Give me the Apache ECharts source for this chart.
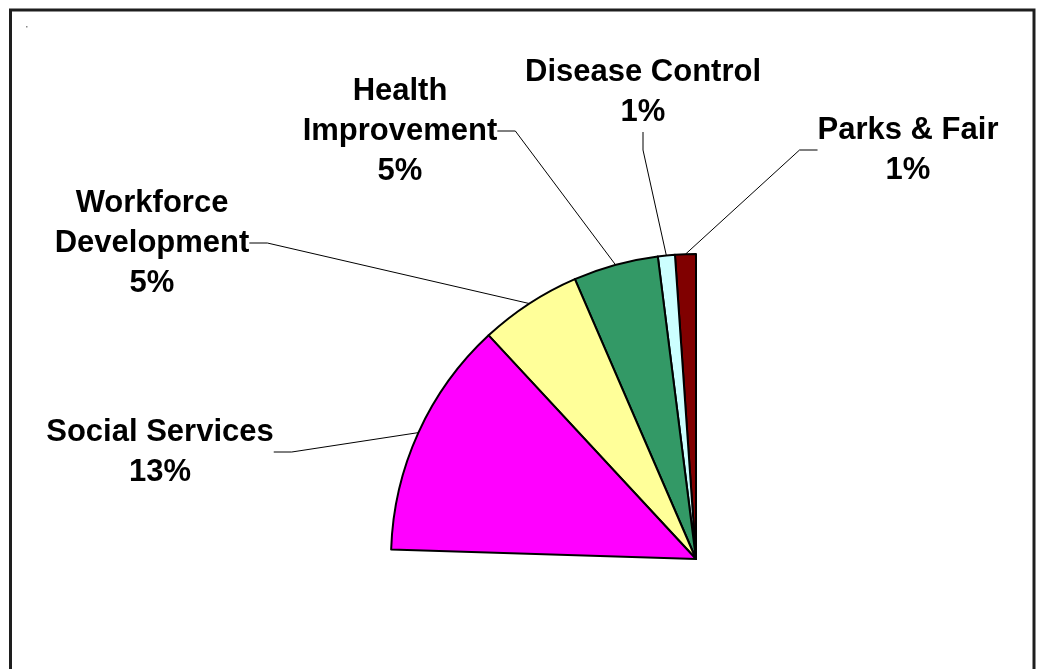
<!DOCTYPE html>
<html>
<head>
<meta charset="utf-8">
<script src="https://cdn.jsdelivr.net/npm/echarts@6/dist/echarts.min.js"></script>
<style>
html,body{margin:0;padding:0;background:#fff;}
#chart{width:1037px;height:669px;}
</style>
</head>
<body>
<div id="chart"></div>
<script>
// ---- data ----
const categories = ['Parks & Fair', 'Disease Control', 'Health Improvement', 'Workforce Development', 'Social Services'];
const labelNames = ['Parks & Fair', 'Disease Control', 'Health\nImprovement', 'Workforce\nDevelopment', 'Social Services'];
const values = [1.1, 0.9, 4.5, 5.4, 12.6];
const otherName = 'Other';
const otherValue = 75.5;
const colors = ['#800000', '#CCFFFF', '#339966', '#FFFF99', '#FF00FF'];

// ---- label layout (styling) ----
const labelPos = [[908, 150], [643, 92], [400, 131], [152, 243], [160, 452]];

const seriesData = categories.map((c, i) => ({
  name: c,
  value: values[i],
  itemStyle: { color: colors[i] }
}));
seriesData.push({
  name: otherName,
  value: otherValue,
  itemStyle: { color: 'rgba(0,0,0,0)', borderWidth: 0 },
  label: { show: false },
  labelLine: { show: false },
  emphasis: { disabled: true }
});

const chart = echarts.init(document.getElementById('chart'), null, { renderer: 'canvas' });
chart.setOption({
  animation: false,
  backgroundColor: '#ffffff',
  graphic: [
    { type: 'rect', shape: { x: 10.5, y: 10, width: 1023.5, height: 680 },
      style: { fill: 'none', stroke: '#1e1e1e', lineWidth: 3 }, silent: true },
    { type: 'rect', shape: { x: 26, y: 26, width: 1.5, height: 1.5 },
      style: { fill: '#888' }, silent: true }
  ],
  series: [{
    type: 'pie',
    center: [696, 559],
    radius: 305,
    startAngle: 90,
    clockwise: false,
    avoidLabelOverlap: false,
    silent: true,
    data: seriesData,
    itemStyle: { borderColor: '#000', borderWidth: 2 },
    label: {
      show: true,
      position: 'outside',
      color: '#000',
      fontFamily: 'Arial, "Liberation Sans", sans-serif',
      fontWeight: 'bold',
      fontSize: 31,
      lineHeight: 40,
      align: 'center',
      formatter: function (p) {
        return labelNames[p.dataIndex] + '\n' + Math.round(p.percent) + '%';
      }
    },
    labelLine: {
      show: true,
      length: 20,
      length2: 18,
      lineStyle: { color: '#000', width: 1 }
    },
    labelLayout: function (params) {
      const pos = labelPos[params.dataIndex];
      if (!pos) return {};
      return { x: pos[0], y: pos[1], align: 'center', verticalAlign: 'middle' };
    }
  }]
});
</script>
</body>
</html>
